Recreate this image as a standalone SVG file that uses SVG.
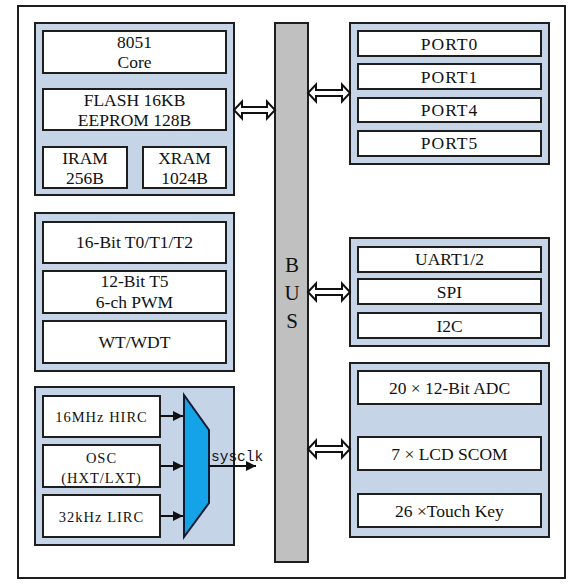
<svg xmlns="http://www.w3.org/2000/svg" width="584" height="584" viewBox="0 0 584 584">
<defs>
<style>
.blk{fill:#c6d4e7;stroke:#1e1e1e;stroke-width:2}
.box{fill:#ffffff;stroke:#1e1e1e;stroke-width:2}
.t{font-size:17.5px;fill:#111;text-anchor:middle}
.p{letter-spacing:1px}
.c{font-size:14.5px;fill:#111;text-anchor:middle;letter-spacing:1px}
.dbl{fill:#ffffff;stroke:#111;stroke-width:2;stroke-linejoin:miter}
.ln{stroke:#111;stroke-width:2;fill:none}
</style>
<marker id="ah" viewBox="0 0 10 10" refX="10" refY="5" markerWidth="5" markerHeight="5" orient="auto" markerUnits="strokeWidth">
<path d="M0,0 L10,5 L0,10 Z" fill="#111"/>
</marker>
</defs>
<rect x="0" y="0" width="584" height="584" fill="#ffffff"/>
<rect id="frame" x="18" y="6" width="547" height="572" fill="#ffffff" stroke="#1e1e1e" stroke-width="2"/>

<g font-family="Liberation Serif, Times New Roman, serif">
<g id="bus">
<rect x="275" y="23" width="33" height="539" fill="#c0c0c0" stroke="#1e1e1e" stroke-width="2"/>
<text x="292" y="272" font-size="21" text-anchor="middle" fill="#111">B</text>
<text x="292" y="300" font-size="21" text-anchor="middle" fill="#111">U</text>
<text x="292" y="328" font-size="21" text-anchor="middle" fill="#111">S</text>
</g>

<g id="core-memory">
<rect class="blk" x="35" y="23" width="199" height="172"/>
<rect class="box" x="43" y="31" width="183" height="42"/>
<text class="t" x="134.5" y="48">8051</text>
<text class="t" x="134.5" y="68">Core</text>
<rect class="box" x="43" y="89" width="183" height="41"/>
<text class="t" x="134.5" y="106">FLASH 16KB</text>
<text class="t" x="134.5" y="126">EEPROM 128B</text>
<rect class="box" x="43" y="147" width="84" height="41"/>
<text class="t" x="85" y="164">IRAM</text>
<text class="t" x="85" y="184">256B</text>
<rect class="box" x="143" y="147" width="83" height="41"/>
<text class="t" x="184.5" y="164">XRAM</text>
<text class="t" x="184.5" y="184">1024B</text>
</g>

<g id="timers">
<rect class="blk" x="35" y="213" width="199" height="158"/>
<rect class="box" x="43" y="222" width="183" height="41"/>
<text class="t" x="134.5" y="248">16-Bit  T0/T1/T2</text>
<rect class="box" x="43" y="271" width="183" height="42"/>
<text class="t" x="134.5" y="287">12-Bit T5</text>
<text class="t" x="134.5" y="308">6-ch PWM</text>
<rect class="box" x="43" y="321" width="183" height="42"/>
<text class="t" x="134.5" y="348">WT/WDT</text>
</g>

<g id="clock">
<rect class="blk" x="35" y="387" width="199" height="158"/>
<rect class="box" x="43" y="396" width="117" height="41"/>
<text class="c" x="101.5" y="422">16MHz HIRC</text>
<rect class="box" x="43" y="445" width="117" height="42"/>
<text class="c" x="101.5" y="463">OSC</text>
<text class="c" x="101.5" y="483">(HXT/LXT)</text>
<rect class="box" x="43" y="495" width="117" height="42"/>
<text class="c" x="101.5" y="522">32kHz LIRC</text>
<polygon id="mux" points="184,395 209,430 209,503 184,537" fill="#14a3e6" stroke="#0d1b33" stroke-width="2"/>
<text x="211" y="461" font-family="Liberation Mono, Courier New, monospace" font-size="14.5" fill="#111">sysclk</text>
</g>

<g id="ports">
<rect class="blk" x="350" y="23" width="199" height="141"/>
<rect class="box" x="358" y="31" width="183" height="25"/>
<text class="t p" x="449.5" y="50">PORT0</text>
<rect class="box" x="358" y="64" width="183" height="25"/>
<text class="t p" x="449.5" y="83">PORT1</text>
<rect class="box" x="358" y="98" width="183" height="24"/>
<text class="t p" x="449.5" y="116">PORT4</text>
<rect class="box" x="358" y="131" width="183" height="25"/>
<text class="t p" x="449.5" y="149">PORT5</text>
</g>

<g id="comm">
<rect class="blk" x="350" y="238" width="199" height="108"/>
<rect class="box" x="358" y="247" width="183" height="25"/>
<text class="t" x="449.5" y="265">UART1/2</text>
<rect class="box" x="358" y="279" width="183" height="25"/>
<text class="t" x="449.5" y="298">SPI</text>
<rect class="box" x="358" y="313" width="183" height="25"/>
<text class="t" x="449.5" y="332">I2C</text>
</g>

<g id="analog">
<rect class="blk" x="350" y="363" width="199" height="174"/>
<rect class="box" x="358" y="371" width="183" height="33"/>
<text class="t" x="449.5" y="394">20 × 12-Bit ADC</text>
<rect class="box" x="358" y="437" width="183" height="33"/>
<text class="t" x="449.5" y="460">7  × LCD SCOM</text>
<rect class="box" x="358" y="494" width="183" height="33"/>
<text class="t" x="449.5" y="517">26 ×Touch Key</text>
</g>
</g>

<g id="connectors">
<polygon class="dbl" points="234,110 242,101.5 242,107 267,107 267,101.5 275,110 267,118.5 267,113 242,113 242,118.5"/>
<polygon class="dbl" points="308,93 316,84.5 316,90 342,90 342,84.5 350,93 342,101.5 342,96 316,96 316,101.5"/>
<polygon class="dbl" points="308,292 316,283.5 316,289 342,289 342,283.5 350,292 342,300.5 342,295 316,295 316,300.5"/>
<polygon class="dbl" points="308,449 316,440.5 316,446 342,446 342,440.5 350,449 342,457.5 342,452 316,452 316,457.5"/>
<line class="ln" x1="160" y1="416" x2="183" y2="416" marker-end="url(#ah)"/>
<line class="ln" x1="160" y1="466" x2="183" y2="466" marker-end="url(#ah)"/>
<line class="ln" x1="160" y1="516" x2="183" y2="516" marker-end="url(#ah)"/>
<line class="ln" x1="209" y1="466" x2="256" y2="466" marker-end="url(#ah)"/>
</g>
</svg>
